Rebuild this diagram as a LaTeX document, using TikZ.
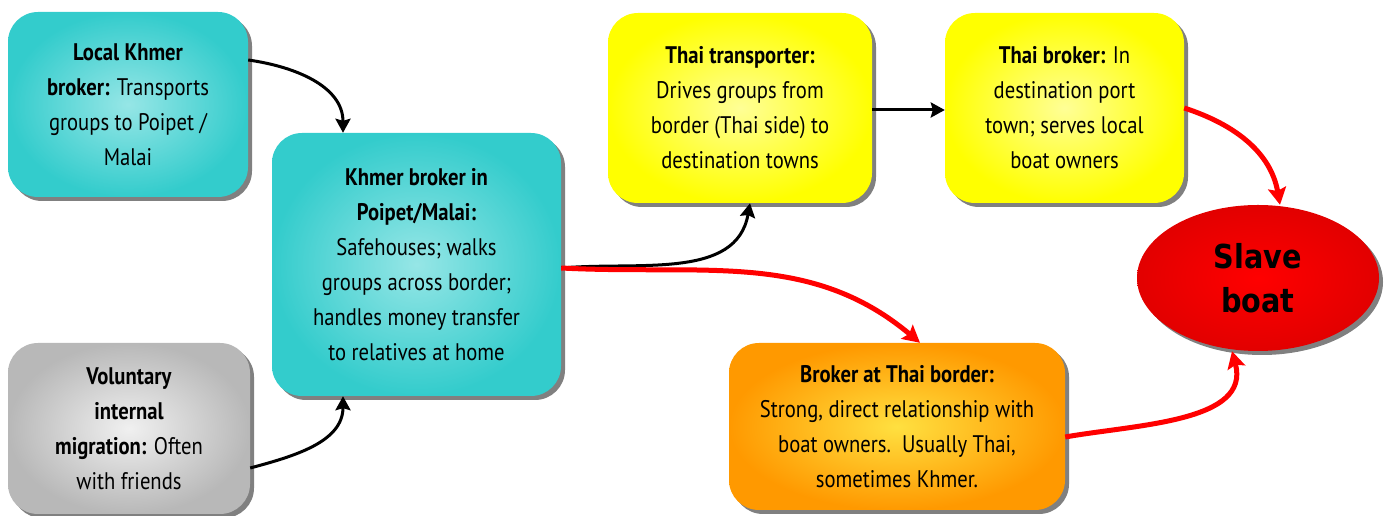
\documentclass[tikz,border=0pt]{standalone}
\usepackage{fontspec}
\setmainfont{PT Sans}[FakeStretch=0.86]
\newfontfamily\boatfont{DejaVu Sans}[FakeStretch=0.87]
\usetikzlibrary{shapes.geometric,shadows,arrows.meta}
\definecolor{cyanout}{RGB}{51,204,204}
\definecolor{cyanin}{RGB}{150,230,230}
\definecolor{yelout}{RGB}{255,255,0}
\definecolor{yelin}{RGB}{255,255,150}
\definecolor{grayout}{RGB}{184,184,184}
\definecolor{grayin}{RGB}{240,240,240}
\definecolor{orout}{RGB}{255,153,0}
\definecolor{orin}{RGB}{255,224,64}
\definecolor{redout}{RGB}{226,0,0}
\definecolor{redin}{RGB}{255,0,0}
\definecolor{shadowgray}{RGB}{128,128,128}
\tikzset{
  boxnode/.style={rectangle, rounded corners=30pt, inner sep=0pt, align=center,
    font={\fontsize{24}{35}\selectfont},
    drop shadow={shadow xshift=4pt, shadow yshift=-4pt, fill=shadowgray, opacity=1}},
  cyanbox/.style={boxnode, inner color=cyanin, outer color=cyanout},
  yelbox/.style={boxnode, inner color=yelin, outer color=yelout},
  graybox/.style={boxnode, inner color=grayin, outer color=grayout},
  orbox/.style={boxnode, inner color=orin, outer color=orout},
  boatnode/.style={ellipse, inner sep=0pt, align=center, inner color=redin, outer color=redout,
    font={\boatfont\bfseries\fontsize{33}{44}\selectfont},
    drop shadow={shadow xshift=4pt, shadow yshift=-4pt, fill=shadowgray, opacity=1}},
  blackarrow/.style={line width=3pt, draw=black, -{Stealth[length=14pt,width=15pt,inset=2pt]}},
  redarrow/.style={line width=5pt, draw=red, -{Stealth[length=17pt,width=18pt,inset=3pt]}},
}
\begin{document}
\begin{tikzpicture}[x=1pt,y=1pt]
\useasboundingbox (0,0) rectangle (1386,516);
\node[cyanbox, minimum width=240pt, minimum height=185pt] (A) at (128,411.5)
  {\textbf{Local Khmer}\\ \textbf{broker:} Transports\\ groups to Poipet /\\ Malai};
\node[cyanbox, minimum width=289pt, minimum height=263pt] (B) at (416.5,251.5)
  {\textbf{Khmer broker in}\\ \textbf{Poipet/Malai:}\\ Safehouses; walks\\ groups across border;\\ handles money transfer\\ to relatives at home};
\node[graybox, minimum width=242pt, minimum height=171pt] (C) at (129,87.5)
  {\textbf{Voluntary}\\ \textbf{internal}\\ \textbf{migration:} Often\\ with friends};
\node[yelbox, minimum width=264pt, minimum height=190pt] (D) at (740,408)
  {\textbf{Thai transporter:}\\ Drives groups from\\ border (Thai side) to\\ destination towns};
\node[yelbox, minimum width=239pt, minimum height=190pt] (E) at (1064.5,408)
  {\textbf{Thai broker:} In\\ destination port\\ town; serves local\\ boat owners};
\node[orbox, minimum width=336pt, minimum height=167pt] (F) at (897,89.5)
  {\textbf{Broker at Thai border:}\\ Strong, direct relationship with\\ boat owners.\ \ Usually Thai,\\ sometimes Khmer.};
\node[boatnode, minimum width=242pt, minimum height=146pt] (G) at (1258,238)
  {Slave\\ boat};
% connectors
\draw[blackarrow] ([yshift=44.5pt]A.east) to[out=-8, in=90] ([xshift=-73.5pt]B.north);
\draw[blackarrow] ([yshift=-39.5pt]C.east) to[out=15, in=-90] ([xshift=-73.5pt]B.south);
\draw[blackarrow] ([yshift=-3.5pt]B.east) to[out=5, in=-100] ([xshift=10pt]D.south);
\draw[redarrow] ([yshift=-3.5pt]B.east) to[out=-3, in=140] ([xshift=23pt]F.north);
\draw[blackarrow] ([yshift=-2pt]D.east) -- ([yshift=-2pt]E.west);
\draw[redarrow] (E.east) to[out=-18, in=100] ([xshift=22pt]G.north);
\draw[redarrow] ([yshift=-10.5pt]F.east) to[out=10, in=-75] ([xshift=-26pt]G.south);
\end{tikzpicture}
\end{document}
